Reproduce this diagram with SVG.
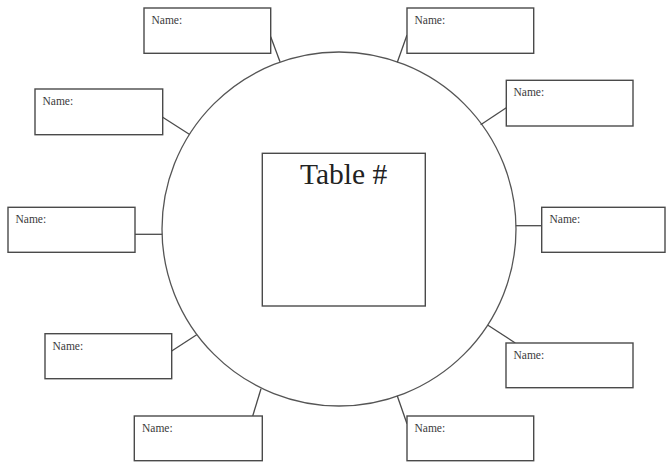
<svg xmlns="http://www.w3.org/2000/svg" width="666" height="464" viewBox="0 0 666 464">
<style>
.box{fill:#fff;stroke:#4a4a4a;stroke-width:1.4}
.lbl{font-family:"Liberation Serif","Times New Roman",serif;font-size:11.5px;fill:#3a3a3a}
.con line{stroke:#4a4a4a;stroke-width:1.3}
</style>
<rect width="666" height="464" fill="#fff"/>
<g id="table">
<circle cx="339" cy="229" r="177" fill="#fff" stroke="#555" stroke-width="1.3"/>
<rect class="box" x="262.3" y="153.3" width="163" height="152.7"/>
<text x="300" y="183.5" font-family="Liberation Serif,'Times New Roman',serif" font-size="29.5" fill="#222">Table #</text>
</g>
<g id="connectors" class="con">
<line x1="270.7" y1="36.7" x2="280" y2="61.7"/>
<line x1="162.7" y1="117.3" x2="189.3" y2="134.3"/>
<line x1="135" y1="234.3" x2="162.2" y2="234.3"/>
<line x1="171.7" y1="351" x2="196.7" y2="334.7"/>
<line x1="252.7" y1="416" x2="261" y2="388.7"/>
<line x1="407" y1="35" x2="397.3" y2="62.3"/>
<line x1="506.3" y1="107.7" x2="480.7" y2="124.7"/>
<line x1="515.8" y1="225.7" x2="541.7" y2="225.7"/>
<line x1="515.3" y1="343" x2="488" y2="325.3"/>
<line x1="407" y1="423.7" x2="397.3" y2="396"/>
</g>
<g id="seat1"><rect class="box" x="144" y="8" width="126.7" height="45.3"/><text class="lbl" x="151.5" y="24">Name:</text></g>
<g id="seat2"><rect class="box" x="35" y="89" width="127.7" height="45.7"/><text class="lbl" x="42.5" y="105">Name:</text></g>
<g id="seat3"><rect class="box" x="8" y="207.3" width="127" height="45"/><text class="lbl" x="15.5" y="223">Name:</text></g>
<g id="seat4"><rect class="box" x="45" y="333.7" width="126.7" height="45"/><text class="lbl" x="52.5" y="349.5">Name:</text></g>
<g id="seat5"><rect class="box" x="134.3" y="416" width="128" height="44.7"/><text class="lbl" x="142" y="431.5">Name:</text></g>
<g id="seat6"><rect class="box" x="407" y="8" width="126.7" height="45.3"/><text class="lbl" x="414.5" y="24">Name:</text></g>
<g id="seat7"><rect class="box" x="506.3" y="80.3" width="126.7" height="45.7"/><text class="lbl" x="513.5" y="96">Name:</text></g>
<g id="seat8"><rect class="box" x="541.7" y="207.3" width="123.3" height="45"/><text class="lbl" x="549.5" y="223">Name:</text></g>
<g id="seat9"><rect class="box" x="506" y="343" width="127" height="44.7"/><text class="lbl" x="513.5" y="358.5">Name:</text></g>
<g id="seat10"><rect class="box" x="407" y="416" width="126.7" height="44.7"/><text class="lbl" x="414.5" y="431.5">Name:</text></g>
</svg>
